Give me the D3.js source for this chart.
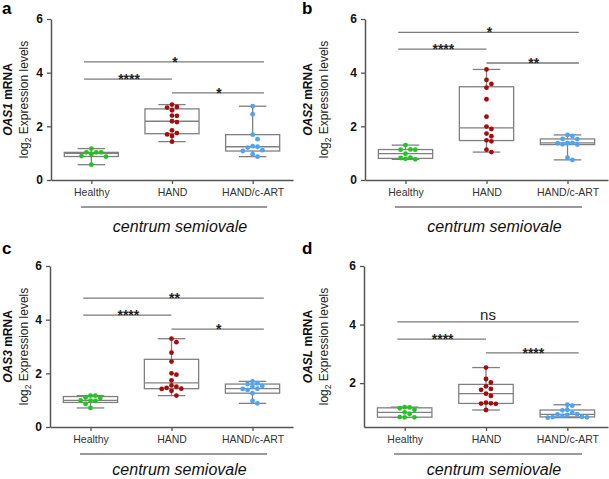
<!DOCTYPE html>
<html>
<head>
<meta charset="utf-8">
<script src="https://cdn.jsdelivr.net/npm/d3@7/dist/d3.min.js"></script>
<style>
  html, body { margin: 0; padding: 0; background: #fff; }
  svg { display: block; font-family: "Liberation Sans", Arial, sans-serif; }
</style>
</head>
<body>
<svg id="chart" width="609" height="479"></svg>
<script>
// ---------------- DATA ----------------
const groups = ["Healthy", "HAND", "HAND/c-ART"];
const groupColors = ["#22c322", "#a30d0d", "#4da3f5"];
const xGroupTitle = "centrum semiovale";

const panelLetters = ["a", "b", "c", "d"];
const genes = ["OAS1", "OAS2", "OAS3", "OASL"];

// OAS1
const oas1Healthy = [1.17, 1.03, 1.03, 1.03, 0.96, 0.89, 0.87, 0.57];
const oas1Hand = [2.81, 2.72, 2.70, 2.60, 2.40, 2.39, 2.19, 2.16, 1.85, 1.75, 1.70, 1.64, 1.43];
const oas1Cart = [2.75, 2.45, 1.69, 1.52, 1.26, 1.24, 1.21, 1.11, 1.08, 0.96, 0.87];
// OAS2
const oas2Healthy = [1.30, 1.14, 1.13, 1.13, 0.98, 0.83, 0.82, 0.79, 0.77];
const oas2Hand = [4.12, 3.73, 3.58, 3.44, 3.01, 2.36, 1.99, 1.90, 1.73, 1.63, 1.48, 1.44, 1.13, 1.04];
const oas2Cart = [1.68, 1.64, 1.53, 1.52, 1.38, 1.38, 1.37, 1.33, 1.32, 0.83, 0.75];
// OAS3
const oas3Healthy = [1.17, 1.17, 1.10, 1.08, 0.99, 0.98, 0.97, 0.86, 0.71];
const oas3Hand = [3.29, 3.16, 2.77, 2.44, 2.00, 1.95, 1.74, 1.55, 1.50, 1.46, 1.43, 1.42, 1.35, 1.17];
const oas3Cart = [1.70, 1.63, 1.60, 1.53, 1.50, 1.43, 1.42, 1.38, 1.26, 0.97, 0.88];
// OASL
const oaslHealthy = [1.18, 1.17, 1.14, 1.09, 1.00, 0.95, 0.84, 0.83, 0.83];
const oaslHand = [2.53, 2.14, 2.02, 1.89, 1.80, 1.77, 1.64, 1.56, 1.33, 1.31, 1.30, 1.29, 1.08];
const oaslCart = [1.26, 1.23, 1.09, 1.07, 0.98, 0.94, 0.93, 0.91, 0.88, 0.85, 0.84, 0.83, 0.82];

const yDomainFull = [0, 6];
const yDomainOASL = [0.5, 6];
const yTicksFull = [0, 2, 4, 6];
const yTicksOASL = [2, 4, 6];

// significance bars: [from group, to group, y level, label]
const sigOAS1 = [["Healthy", "HAND/c-ART", 4.40, "*"], ["Healthy", "HAND", 3.76, "****"], ["HAND", "HAND/c-ART", 3.25, "*"]];
const sigOAS2 = [["Healthy", "HAND/c-ART", 5.50, "*"], ["Healthy", "HAND", 4.88, "****"], ["HAND", "HAND/c-ART", 4.36, "**"]];
const sigOAS3 = [["Healthy", "HAND/c-ART", 4.80, "**"], ["Healthy", "HAND", 4.17, "****"], ["HAND", "HAND/c-ART", 3.65, "*"]];
const sigOASL = [["Healthy", "HAND/c-ART", 4.09, "ns"], ["Healthy", "HAND", 3.50, "****"], ["HAND", "HAND/c-ART", 3.03, "****"]];

// ---------------- LAYOUT ----------------
const panels = [
  { letter: panelLetters[0], gene: genes[0], data: [oas1Healthy, oas1Hand, oas1Cart], sig: sigOAS1, domain: yDomainFull, ticks: yTicksFull,
    left: 51, right: 293, top: 19, bottom: 180, ox: 0, oy: 0, titleOff: 52 },
  { letter: panelLetters[1], gene: genes[1], data: [oas2Healthy, oas2Hand, oas2Cart], sig: sigOAS2, domain: yDomainFull, ticks: yTicksFull,
    left: 365, right: 608, top: 19, bottom: 180, ox: 300, oy: 0, titleOff: 52 },
  { letter: panelLetters[2], gene: genes[2], data: [oas3Healthy, oas3Hand, oas3Cart], sig: sigOAS3, domain: yDomainFull, ticks: yTicksFull,
    left: 50, right: 293, top: 266, bottom: 427, ox: 0, oy: 240, titleOff: 47.5 },
  { letter: panelLetters[3], gene: genes[3], data: [oaslHealthy, oaslHand, oaslCart], sig: sigOASL, domain: yDomainOASL, ticks: yTicksOASL,
    left: 364, right: 608, top: 266, bottom: 427, ox: 300, oy: 240, titleOff: 47.5 }
];

const svg = d3.select("#chart");
const grey = "#808080";
const axisColor = "#555";
const r = 2.4;

// Prism-style quartiles ((n+1)p)
function pq(sorted, p) {
  const n = sorted.length;
  const pos = (n + 1) * p;
  const lo = Math.floor(pos), frac = pos - lo;
  if (lo < 1) return sorted[0];
  if (lo >= n) return sorted[n - 1];
  return sorted[lo - 1] + frac * (sorted[lo] - sorted[lo - 1]);
}

function swarm(values, y, cx, d) {
  const order = values.map((v, i) => i).sort((a, b) => values[b] - values[a]);
  const placed = [];
  const out = new Array(values.length);
  order.forEach(i => {
    const py = y(values[i]);
    for (let k = 0; k < 40; k++) {
      const off = (k === 0 ? 0 : (k % 2 ? 1 : -1) * Math.ceil(k / 2) * d);
      const px = cx + off;
      const ok = placed.every(q => (q[0] - px) ** 2 + (q[1] - py) ** 2 >= d * d * 0.98);
      if (ok) { placed.push([px, py]); out[i] = [px, py]; break; }
    }
  });
  return out;
}

function drawPanel(p) {
  const g = svg.append("g");
  const x = d3.scalePoint().domain(groups).range([p.left, p.right]).padding(0.5);
  const step = x.step();
  const y = d3.scaleLinear().domain(p.domain).range([p.bottom, p.top]);

  // panel letter
  g.append("text").attr("x", p.ox + 2).attr("y", p.oy + 14)
    .attr("font-size", 17).attr("font-weight", "bold").attr("fill", "#000").text(p.letter);

  // y axis
  const ya = g.append("g").attr("transform", `translate(${p.left},0)`)
    .call(d3.axisLeft(y).tickValues(p.ticks).tickSize(4).tickSizeOuter(0).tickPadding(4).tickFormat(d3.format("d")));
  ya.select(".domain").attr("stroke", axisColor).attr("stroke-width", 1.5);
  ya.selectAll(".tick line").attr("stroke", axisColor).attr("stroke-width", 1.3);
  ya.selectAll(".tick text").attr("font-size", 12).attr("font-weight", "bold").attr("fill", "#111")
    .attr("font-family", "Liberation Sans, Arial, sans-serif");

  // x axis
  const xa = g.append("g").attr("transform", `translate(0,${p.bottom})`)
    .call(d3.axisBottom(x).tickSize(4).tickSizeOuter(0).tickPadding(5));
  xa.select(".domain").attr("stroke", axisColor).attr("stroke-width", 1.5);
  xa.selectAll(".tick line").attr("stroke", axisColor).attr("stroke-width", 1.3);
  xa.selectAll(".tick text").attr("font-size", 10.5).attr("fill", "#333")
    .attr("font-family", "Liberation Sans, Arial, sans-serif");

  // y axis title
  const midY = (p.top + p.bottom) / 2;
  const t1 = g.append("text").attr("transform", `translate(${p.ox + 12},${midY}) rotate(-90)`)
    .attr("text-anchor", "middle").attr("font-size", 12).attr("font-weight", "bold").attr("fill", "#111");
  t1.append("tspan").attr("font-style", "italic").text(p.gene);
  t1.append("tspan").text(" mRNA");
  const t2 = g.append("text").attr("transform", `translate(${p.ox + 27.5},${midY}) rotate(-90)`)
    .attr("text-anchor", "middle").attr("font-size", 12).attr("fill", "#222");
  t2.append("tspan").text("log");
  t2.append("tspan").attr("font-size", 8.5).attr("dy", 3).text("2");
  t2.append("tspan").attr("dy", -3).text(" Expression levels");

  // group bracket line and title
  const lineY = p.bottom + 27;
  g.append("line").attr("x1", x(groups[0]) - 0.13 * step).attr("x2", x(groups[2]) + 0.18 * step)
    .attr("y1", lineY).attr("y2", lineY).attr("stroke", "#777").attr("stroke-width", 1.6);
  g.append("text").attr("x", x(groups[1]) + 8).attr("y", p.bottom + p.titleOff)
    .attr("text-anchor", "middle").attr("font-size", 16).attr("font-style", "italic").attr("fill", "#111")
    .text(xGroupTitle);

  // significance bars
  p.sig.forEach(s => {
    const i0 = groups.indexOf(s[0]), i1 = groups.indexOf(s[1]);
    const x1 = x(s[0]) - (i0 === 0 ? 0.09 * step : 0);
    const x2 = x(s[1]) + (i1 === groups.length - 1 ? 0.14 * step : 0);
    const yy = y(s[2]);
    g.append("line").attr("x1", x1).attr("x2", x2).attr("y1", yy).attr("y2", yy)
      .attr("stroke", "#7a7a7a").attr("stroke-width", 1.3);
    const isNs = s[3] === "ns";
    g.append("text").attr("x", (x1 + x2) / 2 + (isNs ? 0 : 1)).attr("y", isNs ? yy - 2 : yy + 5)
      .attr("text-anchor", "middle").attr("font-size", isNs ? 15 : 14).attr("font-weight", isNs ? "normal" : "bold")
      .attr("fill", "#222").text(s[3]);
  });

  // boxes
  const bw = 0.335 * step, cw = 0.17 * step;
  groups.forEach((grp, gi) => {
    const vals = p.data[gi].slice().sort(d3.ascending);
    const q1 = pq(vals, 0.25), med = pq(vals, 0.5), q3 = pq(vals, 0.75);
    const mn = vals[0], mx = vals[vals.length - 1];
    const cx = x(grp);
    const bg = g.append("g").attr("stroke", grey).attr("stroke-width", 1.3).attr("fill", "none");
    bg.append("line").attr("x1", cx).attr("x2", cx).attr("y1", y(mn)).attr("y2", y(q1));
    bg.append("line").attr("x1", cx).attr("x2", cx).attr("y1", y(q3)).attr("y2", y(mx));
    bg.append("line").attr("x1", cx - cw).attr("x2", cx + cw).attr("y1", y(mn)).attr("y2", y(mn));
    bg.append("line").attr("x1", cx - cw).attr("x2", cx + cw).attr("y1", y(mx)).attr("y2", y(mx));
    bg.append("rect").attr("x", cx - bw).attr("width", 2 * bw).attr("y", y(q3)).attr("height", y(q1) - y(q3))
      .attr("fill", "#fff");
    bg.append("line").attr("x1", cx - bw).attr("x2", cx + bw).attr("y1", y(med)).attr("y2", y(med));

    const pts = swarm(p.data[gi], y, cx, 4.9);
    g.append("g").selectAll("circle").data(pts).join("circle")
      .attr("cx", d => d[0]).attr("cy", d => d[1]).attr("r", r).attr("fill", groupColors[gi]);
  });
}

panels.forEach(drawPanel);
</script>
</body>
</html>
